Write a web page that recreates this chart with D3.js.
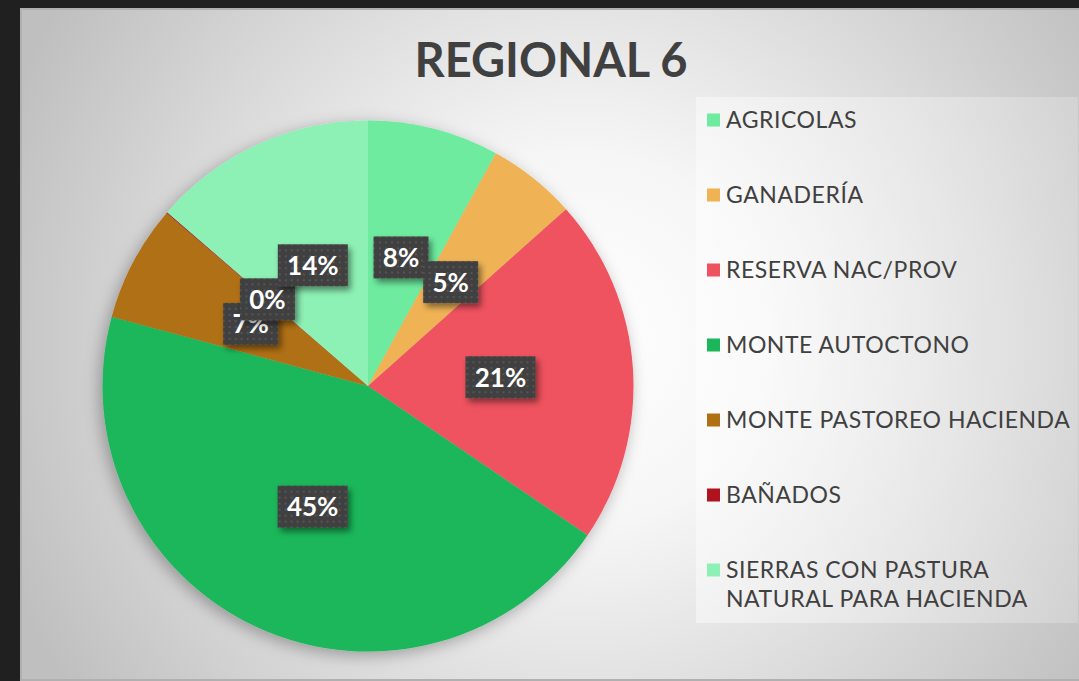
<!DOCTYPE html>
<html>
<head>
<meta charset="utf-8">
<script src="https://cdn.jsdelivr.net/npm/d3@7"></script>
<style>
  body { margin: 0; background: #202020; }
  svg { display: block; }
</style>
</head>
<body>
<div id="chart"></div>
<script>
////////////////////////////////////////////////////////////////////////
// Data (percent of the regional area)

let categories = ["AGRICOLAS", "GANADERÍA", "RESERVA NAC/PROV", "MONTE AUTOCTONO",
                  "MONTE PASTOREO HACIENDA", "BAÑADOS",
                  "SIERRAS CON PASTURA NATURAL PARA HACIENDA"];
let shares = [8.0, 5.4, 21.1, 44.7, 7.1, 0.05, 13.65];
let colors = ["#6eeb9f", "#efb354", "#ef525f", "#1bb75a", "#b07012", "#b0121e", "#8df1b5"];
// legend text is wrapped like in the original
let legendLines = [["AGRICOLAS"], ["GANADERÍA"], ["RESERVA NAC/PROV"], ["MONTE AUTOCTONO"],
                   ["MONTE PASTOREO HACIENDA"], ["BAÑADOS"],
                   ["SIERRAS CON PASTURA", "NATURAL PARA HACIENDA"]];
let title = "REGIONAL 6";

////////////////////////////////////////////////////////////////////////
// Setup

let width = 1079, height = 681;
let cx = 368, cy = 386, radius = 265.5;

let svg = d3.select("#chart").append("svg")
  .attr("width", width)
  .attr("height", height);

let defs = svg.append("defs");

// radial background of the chart area
let bg = defs.append("radialGradient")
  .attr("id", "bg")
  .attr("gradientUnits", "userSpaceOnUse")
  .attr("cx", 580).attr("cy", 340).attr("r", 620);
bg.append("stop").attr("offset", "0").attr("stop-color", "#ffffff");
bg.append("stop").attr("offset", "0.3").attr("stop-color", "#f6f6f6");
bg.append("stop").attr("offset", "1").attr("stop-color", "#bfbfbf");

let lg = defs.append("linearGradient")
  .attr("id", "legendBg")
  .attr("x1", 0).attr("y1", 0).attr("x2", 1).attr("y2", 0);
lg.append("stop").attr("offset", "0").attr("stop-color", "#ffffff").attr("stop-opacity", 0.45);
lg.append("stop").attr("offset", "1").attr("stop-color", "#ffffff").attr("stop-opacity", 0.2);

// dotted fill for the data labels
let pat = defs.append("pattern")
  .attr("id", "dots")
  .attr("patternUnits", "userSpaceOnUse")
  .attr("width", 6).attr("height", 6);
pat.append("rect").attr("width", 6).attr("height", 6).attr("fill", "#404040");
pat.append("rect").attr("x", 2).attr("y", 2).attr("width", 2).attr("height", 2).attr("fill", "#555555");

let pieShadow = defs.append("filter").attr("id", "pieShadow")
  .attr("x", "-20%").attr("y", "-20%").attr("width", "140%").attr("height", "140%");
pieShadow.append("feDropShadow")
  .attr("dx", -3).attr("dy", 4).attr("stdDeviation", 8)
  .attr("flood-color", "#000").attr("flood-opacity", 0.3);

let labelShadow = defs.append("filter").attr("id", "labelShadow")
  .attr("x", "-30%").attr("y", "-30%").attr("width", "160%").attr("height", "170%");
labelShadow.append("feDropShadow")
  .attr("dx", 3).attr("dy", 4).attr("stdDeviation", 3)
  .attr("flood-color", "#000").attr("flood-opacity", 0.45);

// chart area
svg.append("rect")
  .attr("x", 21).attr("y", 9)
  .attr("width", width - 20).attr("height", height - 10)
  .attr("fill", "url(#bg)")
  .attr("stroke", "#b0b0b0")
  .attr("stroke-width", 2);

////////////////////////////////////////////////////////////////////////
// Title

svg.append("text")
  .attr("x", 551).attr("y", 77)
  .attr("text-anchor", "middle")
  .attr("font-family", "Lato, sans-serif")
  .attr("font-weight", 700)
  .attr("font-size", 47)
  .attr("fill", "#404040")
  .text(title);

////////////////////////////////////////////////////////////////////////
// Pie

let data = categories.map((c, i) => ({ name: c, value: shares[i], color: colors[i] }));
let total = d3.sum(shares);

let pie = d3.pie().value(d => d.value).sort(null);
let arc = d3.arc().innerRadius(0).outerRadius(radius);
let arcs = pie(data);

let g = svg.append("g").attr("transform", "translate(" + cx + "," + cy + ")");

g.append("g")
  .attr("filter", "url(#pieShadow)")
  .selectAll("path")
  .data(arcs)
  .enter()
  .append("path")
  .attr("d", arc)
  .attr("fill", d => d.data.color);

// data labels, boxes sized around the text
let fmt = d3.format(".0%");
let labels = g.selectAll("g.lbl")
  .data(arcs)
  .enter()
  .append("g")
  .attr("class", "lbl")
  .attr("transform", d => "translate(" + arc.centroid(d) + ")");

labels.each(function(d) {
  let sel = d3.select(this);
  let txt = fmt(d.data.value / total);
  let w = txt.length === 3 ? 70 : 55;
  sel.append("rect")
    .attr("x", -w / 2).attr("y", -21)
    .attr("width", w).attr("height", 42)
    .attr("fill", "url(#dots)")
    .attr("filter", "url(#labelShadow)");
  sel.append("text")
    .attr("text-anchor", "middle")
    .attr("dy", "0.36em")
    .attr("font-family", "Lato, sans-serif")
    .attr("font-weight", 700)
    .attr("font-size", 26)
    .attr("fill", "#ffffff")
    .text(txt);
});

////////////////////////////////////////////////////////////////////////
// Legend

svg.append("rect")
  .attr("x", 696).attr("y", 97)
  .attr("width", 382).attr("height", 526)
  .attr("fill", "url(#legendBg)");

let ly = d3.scaleBand().domain(d3.range(categories.length)).range([82, 607]);

let items = svg.append("g").selectAll("g")
  .data(data)
  .enter()
  .append("g")
  .attr("transform", (d, i) => "translate(707," + (ly(i) + ly.bandwidth() / 2) + ")");

items.append("rect")
  .attr("x", 0).attr("y", -6)
  .attr("width", 13).attr("height", 13)
  .attr("fill", d => d.color);

items.append("text")
  .attr("font-family", "Lato, sans-serif")
  .attr("font-size", 23)
  .attr("letter-spacing", 0.55)
  .attr("fill", "#404040")
  .selectAll("tspan")
  .data((d, i) => legendLines[i])
  .enter()
  .append("tspan")
  .attr("x", 19)
  .attr("y", (t, j) => 8 + j * 29)
  .text(t => t);
</script>
</body>
</html>
